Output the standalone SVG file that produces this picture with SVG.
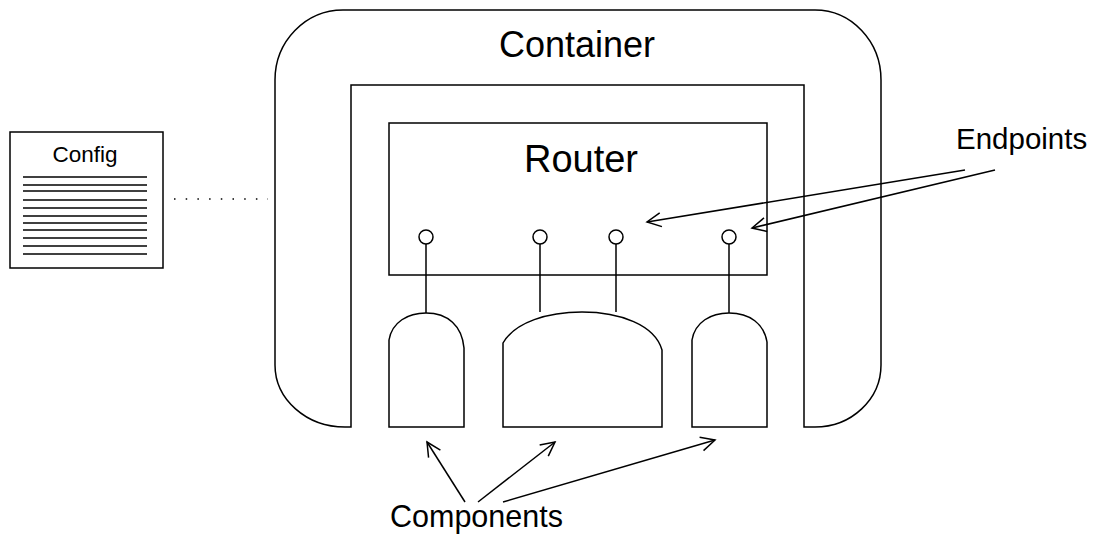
<svg xmlns="http://www.w3.org/2000/svg" width="1106" height="535" viewBox="0 0 1106 535">
<style>
.s{fill:none;stroke:#000;stroke-width:1.5}
.t{font-family:"Liberation Sans",Arial,sans-serif;fill:#000}
.ln{stroke:#000;stroke-width:1.5}
</style>
<defs>
<marker id="ah" markerUnits="userSpaceOnUse" markerWidth="20" markerHeight="20" refX="15" refY="8" orient="auto">
<path d="M1,1 L15,8 L1,15" fill="none" stroke="#000" stroke-width="1.5"/>
</marker>
</defs>
<rect width="1106" height="535" fill="#fff"/>

<g id="container">
<path class="s" d="M351,427 L351,85 L804,85 L804,427 L815,427 A66,62 0 0 0 881,365 L881,80 A66,70 0 0 0 815,10 L343,10 A68,70 0 0 0 275,80 L275,365 A70,62 0 0 0 345,427 Z"/>
<text class="t" x="577" y="57" font-size="36" text-anchor="middle">Container</text>
</g>

<g id="router">
<rect class="s" x="389" y="123" width="378" height="152"/>
<text class="t" x="581" y="172" font-size="38" text-anchor="middle">Router</text>
</g>

<g id="endpoints">
<circle class="s" cx="426" cy="237" r="7"/>
<circle class="s" cx="540" cy="237" r="7"/>
<circle class="s" cx="616" cy="237" r="7"/>
<circle class="s" cx="729" cy="237" r="7"/>
<text class="t" x="956" y="149" font-size="29.5">Endpoints</text>
</g>

<g id="comp1">
<path class="s" d="M389,427 L389,340 C392,322 408,313 426,313 C448,313 462,326 464,348 L464,427 Z"/>
</g>
<g id="comp2">
<path class="s" d="M503,427 L503,343 C515,322 548,312 582,312 C620,312 655,325 662,350 L662,427 Z"/>
</g>
<g id="comp3">
<path class="s" d="M692,427 L692,340 C695,322 711,313 729,313 C750,313 764,324 767,342 L767,427 Z"/>
</g>

<g id="config">
<rect class="s" x="10" y="132" width="153" height="136"/>
<text class="t" x="85" y="162" font-size="22.5" text-anchor="middle">Config</text>
<g class="ln">
<line x1="23" y1="177" x2="147" y2="177"/>
<line x1="23" y1="185" x2="147" y2="185"/>
<line x1="23" y1="191" x2="147" y2="191"/>
<line x1="23" y1="200" x2="147" y2="200"/>
<line x1="23" y1="208" x2="147" y2="208"/>
<line x1="23" y1="216" x2="147" y2="216"/>
<line x1="23" y1="223" x2="147" y2="223"/>
<line x1="23" y1="230" x2="147" y2="230"/>
<line x1="23" y1="238" x2="147" y2="238"/>
<line x1="23" y1="246" x2="147" y2="246"/>
<line x1="23" y1="254" x2="147" y2="254"/>
</g>
</g>

<g id="components-label">
<text class="t" x="390" y="527" font-size="30.5">Components</text>
</g>

<g id="connectors">
<line x1="174" y1="199" x2="268" y2="199" stroke="#000" stroke-width="1.5" stroke-dasharray="1.5,10.2"/>
<line class="ln" x1="426" y1="244" x2="426" y2="313"/>
<line class="ln" x1="540" y1="244" x2="540" y2="312"/>
<line class="ln" x1="616" y1="244" x2="616" y2="312"/>
<line class="ln" x1="729" y1="244" x2="729" y2="313"/>
<line class="ln" x1="965" y1="170" x2="647" y2="222" marker-end="url(#ah)"/>
<line class="ln" x1="995" y1="170" x2="752" y2="228" marker-end="url(#ah)"/>
<line class="ln" x1="465" y1="502" x2="427" y2="442" marker-end="url(#ah)"/>
<line class="ln" x1="478" y1="502" x2="555" y2="442" marker-end="url(#ah)"/>
<line class="ln" x1="503" y1="502" x2="715" y2="440" marker-end="url(#ah)"/>
</g>
</svg>
